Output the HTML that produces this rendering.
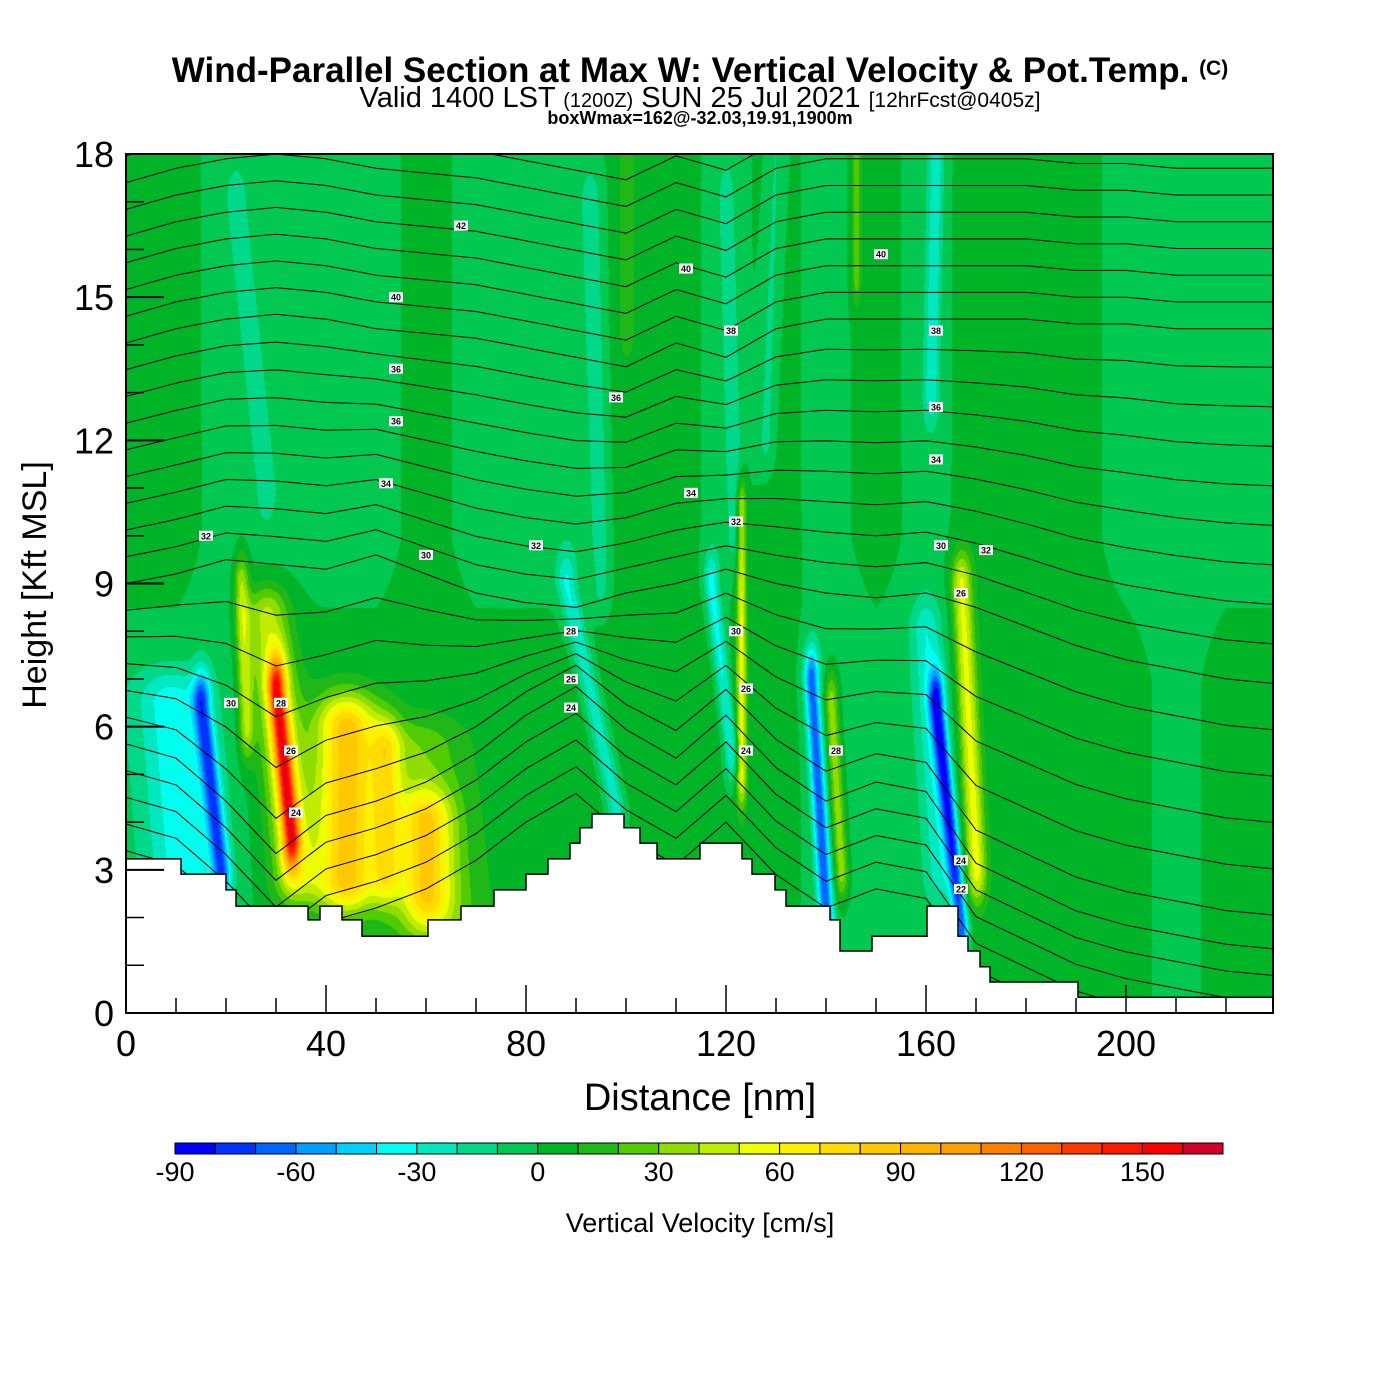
<!DOCTYPE html>
<html><head><meta charset="utf-8">
<style>
html,body{margin:0;padding:0;background:#fff;}
#wrap{position:relative;width:1400px;height:1400px;overflow:hidden;font-family:"Liberation Sans",sans-serif;}
#field{position:absolute;left:126px;top:154px;}
#ov{position:absolute;left:0;top:0;}
</style></head>
<body>
<div id="wrap">
<canvas id="field" width="1147" height="859"></canvas>
<svg id="ov" width="1400" height="1400" xmlns="http://www.w3.org/2000/svg">
<g font-family="Liberation Sans, sans-serif" text-anchor="middle">
<text x="700" y="82" font-size="35" font-weight="bold">Wind-Parallel Section at Max W: Vertical Velocity &amp; Pot.Temp. <tspan font-size="21" dy="-7">(C)</tspan></text>
<text x="700" y="107" font-size="29">Valid 1400 LST <tspan font-size="20">(1200Z)</tspan> SUN 25 Jul 2021 <tspan font-size="21">[12hrFcst@0405z]</tspan></text>
<text x="700" y="124" font-size="18" font-weight="bold">boxWmax=162@-32.03,19.91,1900m</text>
<text x="700" y="1110" font-size="38">Distance [nm]</text>
<text transform="translate(46,585) rotate(-90)" font-size="34">Height [Kft MSL]</text>
<text x="700" y="1232" font-size="27">Vertical Velocity [cm/s]</text>
</g>
<defs><clipPath id="plotclip"><rect x="126" y="154" width="1147" height="859"/></clipPath></defs>
<g id="contours" clip-path="url(#plotclip)"></g>
<g id="terrain"></g>
<g id="clabels"></g>
<g id="axes"></g>
<g id="cbar"></g>
</svg>
</div>
<script>
// ---------- data ----------
const xTicks = [0, 40, 80, 120, 160, 200];
const yTicks = [0, 3, 6, 9, 12, 15, 18];
const cbTickLabels = [-90, -60, -30, 0, 30, 60, 90, 120, 150];
const cbColors = ["#0000ff","#0033ff","#0066ff","#00a0ff","#00d0ff","#00ffee","#00e8c0","#00d88a","#00c850",
  "#00b428","#20b818","#50cc00","#90dc00","#c0ec00","#eeff00","#fff000","#ffdc00","#ffc800","#ffb400",
  "#ffa000","#ff8000","#ff6000","#ff3800","#ff1800","#ff0000","#d4002a"];
const terrainX = [0,11,20,22,36.4,38.8,43.2,47.2,60.4,67,73.6,80,84.4,88.8,90.8,93.2,99.6,102.8,106.2,114.8,123.2,125.2,129.8,132,140.8,142.8,149.2,160.2,166.4,168.4,170.8,172.8,190.4];
const terrainH = [3.23,2.91,2.58,2.24,1.95,2.24,1.95,1.61,1.95,2.24,2.58,2.91,3.23,3.56,3.88,4.17,3.88,3.56,3.23,3.56,3.23,2.91,2.58,2.24,1.95,1.3,1.61,2.24,1.61,1.3,0.97,0.65,0.33];
const bgLow  = [-5,-5,-5,5,5,5,5,5,5,5,5,5,5,5,-5,-5,-5,5,5,5,5,-5,5,5];
const bgHigh = [5,5,-5,-5,-5,-5,5,-5,-5,-5,5,5,-5,5,-5,5,-5,5,5,5,-5,-5,-5,-5];
const featX0 = [12,19,33,34,44,60,62,24,98,95,121,122,123,140,143,167,163,170,161,128,28,146,100,52];
const featY0 = [2.5,3,3.7,3,2.8,2.5,2,6,4.3,9,5.5,10,5,2,3,1.8,3,3,13,12,11,15.5,14.5,3];
const featX1 = [9,15,30,28,44,60,58,23,88,93,117,120,123,137,141,162,160,167,162,130,22,146,100,52];
const featY1 = [6.5,6.5,6.8,8.3,6,4,5.5,9,9,17,9,17,10.5,7,6.5,6.5,8,9,18,18,17,18.5,18.5,5.5];
const featW  = [-32,-60,110,45,80,55,25,40,-30,-15,-35,-15,50,-65,40,-70,-25,50,-25,-15,-12,25,15,45];
const featR  = [7,1.8,1.8,4.5,6,5,9,1.5,2,2,1.5,1.5,1,1.5,1.5,1.5,3,2,1.5,2,2,1,1.5,3];
const isoBase = [];
for (let b = 3.4; b <= 19.5; b += 0.56) isoBase.push(b);
const dispLow  = [0,-0.3,-1.2,-2.3,-1.5,-1.2,-0.8,-0.2,0.6,1.2,0.3,-0.3,0.6,-0.5,-1.2,-0.8,-1.0,-2.5,-3.0,-3.5,-3.8,-4.0,-4.2,-4.3];
const dispMid  = [0,0.2,0.5,0.4,0.3,0.6,0.2,-0.2,-0.4,-0.5,-0.2,0,0.3,0,-0.2,-0.3,-0.2,-0.5,-0.9,-1.3,-1.6,-1.8,-2.0,-2.1];
const dispHigh = [0,0.3,0.5,0.6,0.5,0.3,0.2,0.1,-0.1,-0.3,-0.5,0,-0.3,0.3,0.5,0.5,0.5,0.5,0.5,0.4,0.4,0.3,0.3,0.3];
const labelX = [16,21,31,33,34,52,54,54,54,60,67,82,89,89,89,112,113,98,121,122,122,124,124,142,151,162,162,162,163,167,167,167,172];
const labelY = [10,6.5,6.5,5.5,4.2,11.1,15,12.4,13.5,9.6,16.5,9.8,8,7,6.4,15.6,10.9,12.9,14.3,10.3,8,6.8,5.5,5.5,15.9,14.3,12.7,11.6,9.8,8.8,3.2,2.6,9.7];
const labelT = ["32","30","28","26","24","34","40","36","36","30","42","32","28","26","24","40","34","36","38","32","30","26","24","28","40","38","36","34","30","26","24","22","32"];

const PX0=126, PY0=154, PW=1147, PH=859, XMAX=229.4, YMAX=18;
const sx = d => PX0 + d/XMAX*PW;
const sy = h => PY0 + PH - h/YMAX*PH;
const NS="http://www.w3.org/2000/svg";
function mk(tag, attrs, parent){const e=document.createElementNS(NS,tag);for(const k in attrs)e.setAttribute(k,attrs[k]);parent.appendChild(e);return e;}
function interp(arr, x){const p=x/10;let i=Math.floor(p);if(i<0)return arr[0];if(i>=arr.length-1)return arr[arr.length-1];const f=p-i;return arr[i]*(1-f)+arr[i+1]*f;}
function terrainAt(x){let h=terrainH[0];for(let i=0;i<terrainX.length;i++){if(x>=terrainX[i])h=terrainH[i];}return h;}
function W(x,h){
  const t=Math.min(1,Math.max(0,(h-7)/3));
  let w = interp(bgLow,x)*(1-t)+interp(bgHigh,x)*t;
  for(let i=0;i<featW.length;i++){
    const dy=featY1[i]-featY0[i];
    const tt=(h-featY0[i])/dy;
    const cx=featX0[i]+Math.min(1,Math.max(0,tt))*(featX1[i]-featX0[i]);
    let along=1;
    if(tt<0){const d=-tt*dy/0.7;along=Math.exp(-d*d);}
    else if(tt>1){const d=(tt-1)*dy/0.7;along=Math.exp(-d*d);}
    if(along<0.01)continue;
    const a=(x-cx)/featR[i];
    w+=featW[i]*along*Math.exp(-a*a);
  }
  return w;
}
(function(){
  const cv=document.getElementById('field');const ctx=cv.getContext('2d');
  const img=ctx.createImageData(PW,PH);
  const rgb=cbColors.map(c=>[parseInt(c.substr(1,2),16),parseInt(c.substr(3,2),16),parseInt(c.substr(5,2),16)]);
  for(let py=0;py<PH;py++){
    const h=(PH-py)/PH*YMAX;
    for(let px=0;px<PW;px++){
      const x=px/PW*XMAX;
      let k=Math.floor((W(x,h)+90)/10);
      if(k<0)k=0;if(k>25)k=25;
      const o=(py*PW+px)*4;
      img.data[o]=rgb[k][0];img.data[o+1]=rgb[k][1];img.data[o+2]=rgb[k][2];img.data[o+3]=255;
    }
  }
  ctx.putImageData(img,0,0);
})();
(function(){
  const g=document.getElementById('contours');
  isoBase.forEach((b,i)=>{
    let pts=[];
    for(let x=0;x<=XMAX+2;x+=2){
      let wl,wm,wh;
      if(b<=6){wl=1;wm=0;wh=0;}
      else if(b<=9){const f=(b-6)/3;wl=1-f;wm=f;wh=0;}
      else if(b<=14){const f=(b-9)/5;wl=0;wm=1-f;wh=f;}
      else {wl=0;wm=0;wh=1;}
      const d=interp(dispLow,x)*wl+interp(dispMid,x)*wm+interp(dispHigh,x)*wh;
      pts.push(sx(x).toFixed(1)+','+sy(b+d).toFixed(1));
    }
    const p=mk('polyline',{points:pts.join(' '),fill:'none',stroke:'#000','stroke-width':'1'},g);
    
    
  });
})();
(function(){
  const g=document.getElementById('terrain');
  let pts=[sx(0)+','+sy(0)];
  for(let i=0;i<terrainX.length;i++){
    const x0=terrainX[i], x1=(i<terrainX.length-1)?terrainX[i+1]:XMAX;
    pts.push(sx(x0).toFixed(1)+','+sy(terrainH[i]).toFixed(1));
    pts.push(sx(x1).toFixed(1)+','+sy(terrainH[i]).toFixed(1));
  }
  pts.push(sx(XMAX)+','+sy(0));
  const p=mk('polygon',{points:pts.join(' '),fill:'#fff',stroke:'#000','stroke-width':'1.5'},g);
  
  
})();
(function(){
  const g=document.getElementById('clabels');
  labelT.forEach((t,i)=>{
    const x=sx(labelX[i]), y=sy(labelY[i]);
    if(labelY[i]<terrainAt(labelX[i]))return;
    const r=mk('rect',{x:x-7,y:y-5,width:14,height:10,fill:'#fff'},g);
    
    
    const tx=mk('text',{x:x,y:y+3.5,'font-size':'9','font-weight':'bold','text-anchor':'middle','font-family':'Liberation Sans, sans-serif'},g);
    tx.textContent=t;
    
    
  });
})();
(function(){
  const g=document.getElementById('axes');
  for(let x=10;x<XMAX;x+=10){
    const major=(x%40===0);
    const l=mk('line',{x1:sx(x),x2:sx(x),y1:PY0+PH,y2:PY0+PH-(major?28:15),stroke:'#000','stroke-width':'1.5'},g);
    
    
  }
  for(let h=1;h<YMAX;h+=1){
    const major=(h%3===0);
    const l=mk('line',{x1:PX0,x2:PX0+(major?38:18),y1:sy(h),y2:sy(h),stroke:'#000','stroke-width':major?'2':'1.5'},g);
    
    
  }
  xTicks.forEach(v=>{
    const t=mk('text',{x:sx(v),y:1056,'font-size':'36','text-anchor':'middle','font-family':'Liberation Sans, sans-serif'},g);
    t.textContent=v;
    
    
  });
  yTicks.forEach(v=>{
    const t=mk('text',{x:114,y:sy(v)+13,'font-size':'36','text-anchor':'end','font-family':'Liberation Sans, sans-serif'},g);
    t.textContent=v;
    
    
  });
  const f=mk('rect',{x:PX0,y:PY0,width:PW,height:PH,fill:'none',stroke:'#000','stroke-width':'2'},g);
  
  
})();
(function(){
  const g=document.getElementById('cbar');
  const cx0=175, cw=1048/26, cy=1143, ch=11;
  cbColors.forEach((c,i)=>{
    const r=mk('rect',{x:cx0+i*cw,y:cy,width:cw,height:ch,fill:c,stroke:'#000','stroke-width':'1'},g);
    
    
  });
  cbTickLabels.forEach(v=>{
    const t=mk('text',{x:cx0+(v+90)/10*cw,y:1181,'font-size':'27','text-anchor':'middle','font-family':'Liberation Sans, sans-serif'},g);
    t.textContent=v;
    
    
  });
})();
</script>
</body></html>
